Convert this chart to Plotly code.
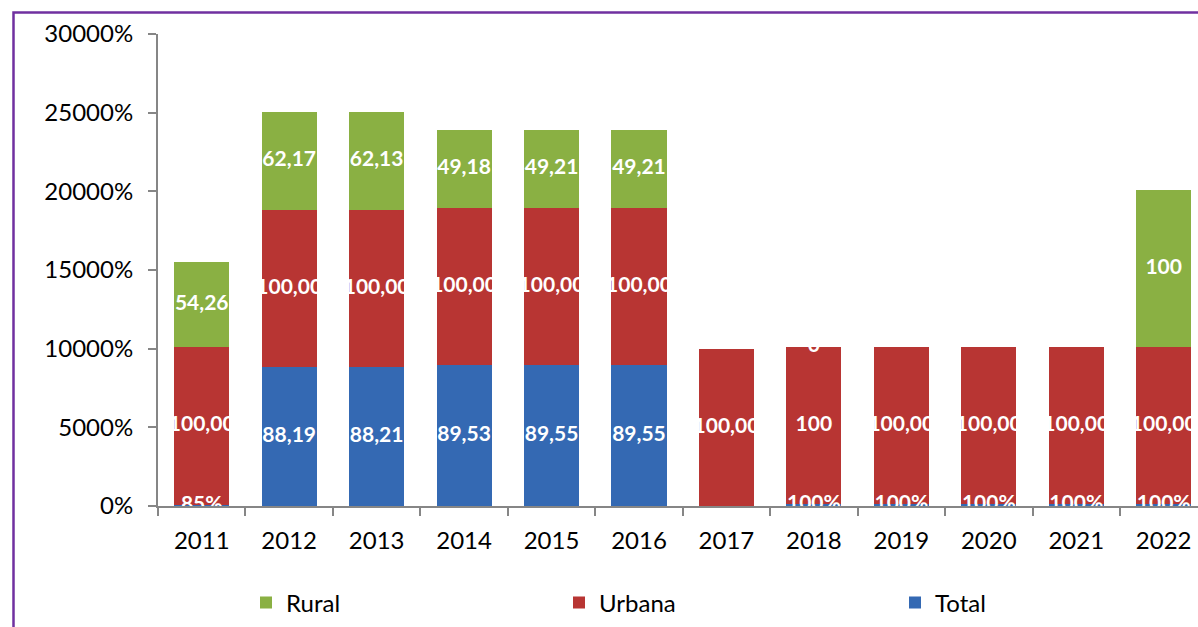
import plotly.graph_objects as go

years = ["2011", "2012", "2013", "2014", "2015", "2016", "2017", "2018", "2019", "2020", "2021", "2022"]
total = [0.85, 88.19, 88.21, 89.53, 89.55, 89.55, 0, 1, 1, 1, 1, 1]
urbana = [100, 100, 100, 100, 100, 100, 100, 100, 100, 100, 100, 100]
rural = [54.26, 62.17, 62.13, 49.18, 49.21, 49.21, 0, 0, 0, 0, 0, 100]

total_labels = ["85%", "88,19", "88,21", "89,53", "89,55", "89,55", "", "100%", "100%", "100%", "100%", "100%"]
urbana_labels = ["100,00", "100,00", "100,00", "100,00", "100,00", "100,00", "100,00", "100", "100,00", "100,00", "100,00", "100,00"]
rural_labels = ["54,26", "62,17", "62,13", "49,18", "49,21", "49,21", "", "0", "", "", "", "100"]

C_TOTAL = "#3469b3"
C_URB = "#b83533"
C_RUR = "#8ab043"
FONT = "Lato"

plot_w = 1198 - 158
plot_h = 506 - 34

fig = go.Figure()
bw = 0.63
fig.add_trace(go.Bar(x=years, y=total, name="Total", legend="legend3",
                     marker=dict(color=C_TOTAL, line=dict(width=0)), width=bw))
fig.add_trace(go.Bar(x=years, y=urbana, name="Urbana", legend="legend2",
                     marker=dict(color=C_URB, line=dict(width=0)), width=bw))
fig.add_trace(go.Bar(x=years, y=rural, name="Rural", legend="legend",
                     marker=dict(color=C_RUR, line=dict(width=0)), width=bw))

y_tot = [t / 2 for t in total]
y_urb = [t + u / 2 for t, u in zip(total, urbana)]
y_rur = [t + u + r / 2 for t, u, r in zip(total, urbana, rural)]

for ys, labs in [(y_tot, total_labels), (y_urb, urbana_labels), (y_rur, rural_labels)]:
    fig.add_trace(go.Scatter(
        x=years, y=ys, text=labs, mode="text", showlegend=False, hoverinfo="skip",
        textfont=dict(family=FONT, size=21, color="white", weight="bold"),
        cliponaxis=True,
    ))

fig.add_shape(type="rect", xref="paper", yref="paper",
              x0=(13.5 - 158) / plot_w, x1=1.2,
              y0=-0.6, y1=(506 - 12.5) / plot_h,
              line=dict(color="#7030a0", width=2.5), fillcolor="rgba(0,0,0,0)", layer="above")


def leg(px):
    return dict(orientation="h", x=(px - 158) / plot_w, xanchor="left",
                y=(506 - 603) / plot_h, yanchor="middle",
                font=dict(family=FONT, size=24), itemclick=False, itemdoubleclick=False,
                bgcolor="rgba(0,0,0,0)")


fig.update_layout(
    barmode="stack",
    width=1198, height=627,
    margin=dict(l=158, r=0, t=34, b=121, autoexpand=False),
    paper_bgcolor="white", plot_bgcolor="white",
    font=dict(family=FONT, size=24, color="black"),
    showlegend=True,
    legend=leg(246),
    legend2=leg(559),
    legend3=leg(895),
    xaxis=dict(type="category", range=[-0.5, -0.5 + plot_w / 87.45], automargin=False,
               showline=True, linecolor="#868686", linewidth=2,
               ticks="outside", tickson="boundaries", ticklen=8, tickcolor="#868686", tickwidth=2,
               ticklabelstandoff=12, showgrid=False),
    yaxis=dict(range=[0, 300], dtick=50, tickformat=".0%", automargin=False,
               showline=True, linecolor="#868686", linewidth=2,
               ticks="outside", ticklen=8, tickcolor="#868686", tickwidth=2,
               ticklabelstandoff=10, showgrid=False, zeroline=False),
)

fig.write_html("out.html", config={"displayModeBar": False},
               post_script="document.body.style.margin='0';document.body.style.overflow='hidden';")
